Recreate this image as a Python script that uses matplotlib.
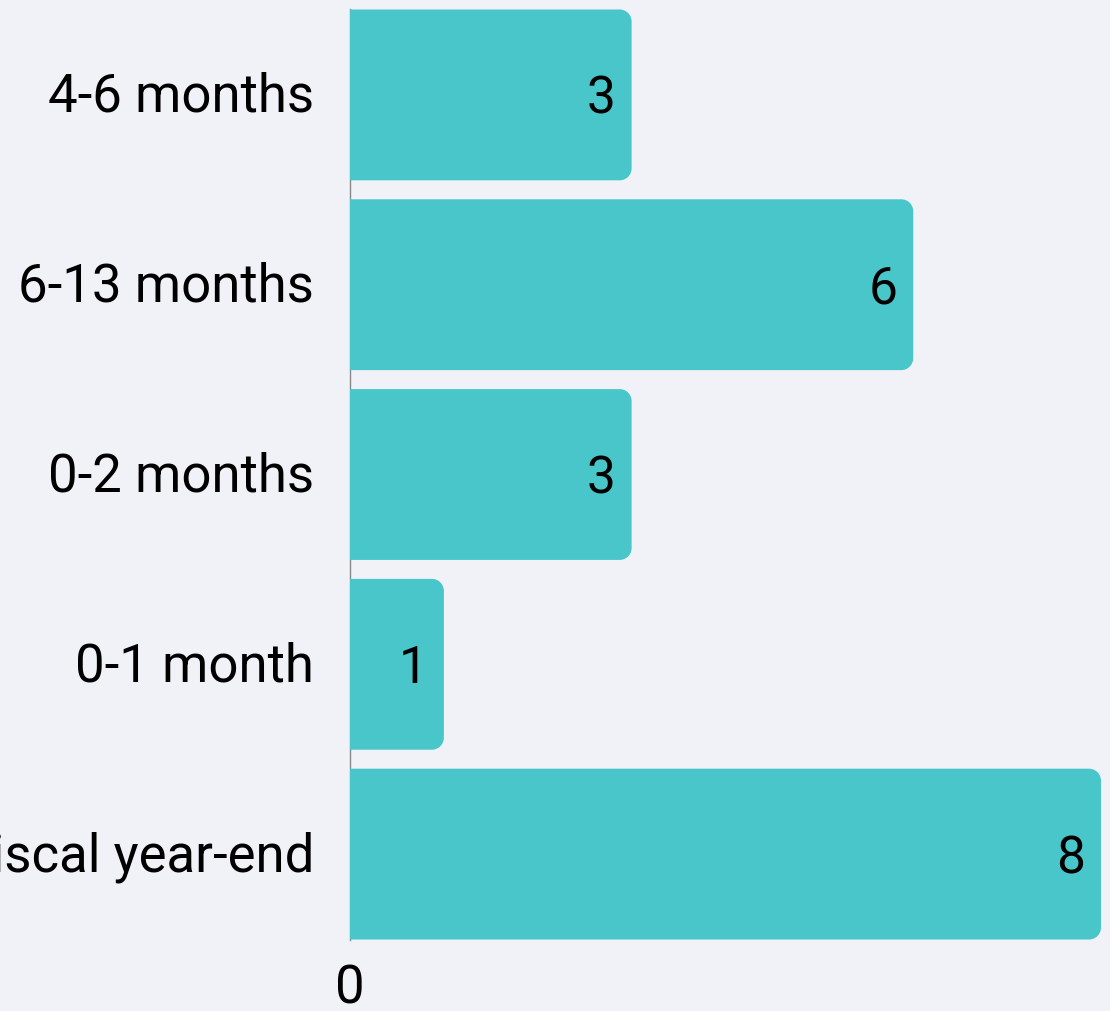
import matplotlib.pyplot as plt
from matplotlib.patches import PathPatch
from matplotlib.path import Path
from matplotlib.transforms import ScaledTranslation

categories = ["4-6 months", "6-13 months", "0-2 months", "0-1 month", "Before fiscal year-end"]
values = [3, 6, 3, 1, 8]

BG = "#f0f2f7"
BAR = "#48c6c9"

plt.rcParams['font.family'] = ['Roboto', 'DejaVu Sans']

fig = plt.figure(figsize=(11.1, 10.12), dpi=100, facecolor=BG)
ax = fig.add_axes([350 / 1110, 1 - 950 / 1012, (1101 - 350) / 1110, 949 / 1012])
ax.set_facecolor(BG)

n = len(categories)
ypos = list(range(n))[::-1]
ax.set_xlim(0, 8)
ax.set_ylim(-0.5, n - 0.5)

# pixels per data unit, so the corner radius is round on screen
px_x = (1101 - 350) / 8
px_y = 949 / n
rx = 12 / px_x
ry = 12 / px_y
k = 0.5523


def right_rounded(x0, y0, w, hgt):
    x1, y1 = x0 + w, y0 + hgt
    verts = [(x0, y0), (x1 - rx, y0),
             (x1 - rx + k * rx, y0), (x1, y0 + ry - k * ry), (x1, y0 + ry),
             (x1, y1 - ry),
             (x1, y1 - ry + k * ry), (x1 - rx + k * rx, y1), (x1 - rx, y1),
             (x0, y1), (x0, y0)]
    codes = [Path.MOVETO, Path.LINETO,
             Path.CURVE4, Path.CURVE4, Path.CURVE4,
             Path.LINETO,
             Path.CURVE4, Path.CURVE4, Path.CURVE4,
             Path.LINETO, Path.CLOSEPOLY]
    return Path(verts, codes)


h = 0.9
for y, v in zip(ypos, values):
    ax.add_patch(PathPatch(right_rounded(0, y - h / 2, v, h),
                           facecolor=BAR, edgecolor="none", zorder=2))
    ax.text(v - 16 / px_x, y - 18 / px_y, str(v), ha="right", va="baseline",
            fontsize=37, color="black", zorder=3)

ax.set_yticks(ypos)
ax.set_yticklabels(categories, fontsize=38)
ax.set_xticks([0])
ax.set_xticklabels(["0"], fontsize=38)
ax.tick_params(axis="both", length=0)
ax.tick_params(axis="y", pad=26)
ax.tick_params(axis="x", pad=10)

# baseline of the category labels sits a bit below the bar centre
down = ScaledTranslation(0, -16 / 100, fig.dpi_scale_trans)
for lab in ax.get_yticklabels():
    lab.set_verticalalignment("baseline")
    lab.set_transform(lab.get_transform() + down)

for s in ["top", "right", "bottom"]:
    ax.spines[s].set_visible(False)
ax.spines["left"].set_color("#888888")
ax.spines["left"].set_linewidth(1)
ax.spines["left"].set_zorder(1)
ax.spines["left"].set_bounds(-h / 2, n - 1 + h / 2)

fig.savefig("out.png", dpi=100, facecolor=BG)
